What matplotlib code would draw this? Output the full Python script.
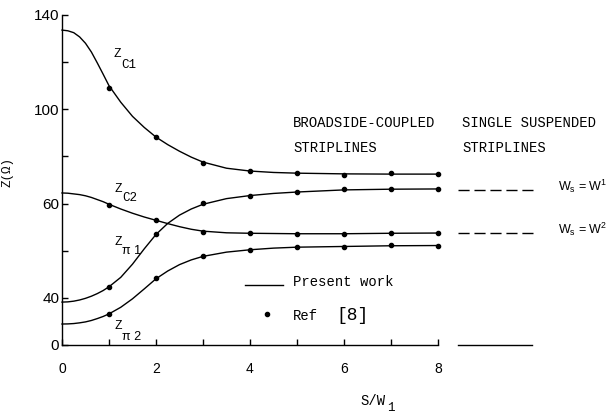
import matplotlib
matplotlib.use("Agg")
import matplotlib.pyplot as plt

# ---- data ----
x_line = [0, 0.125, 0.25, 0.375, 0.5, 0.625, 0.75, 0.875, 1, 1.25, 1.5, 1.75, 2,
          2.25, 2.5, 2.75, 3, 3.5, 4, 4.5, 5, 6, 7, 8]
zc1_line = [133.6, 133.3, 132.5, 130.7, 128.0, 124.3, 119.7, 114.9, 110.0, 103.0, 97.0, 92.3, 88.2,
            85.0, 82.2, 79.7, 77.6, 75.0, 73.8, 73.2, 72.9, 72.6, 72.5, 72.5]
zc2_line = [64.5, 64.4, 64.1, 63.8, 63.3, 62.6, 61.7, 60.8, 59.7, 57.7, 55.9, 54.3, 52.9,
            51.5, 50.2, 49.1, 48.3, 47.6, 47.4, 47.3, 47.2, 47.2, 47.4, 47.5]
zpi1_line = [18.2, 18.3, 18.6, 19.1, 19.8, 20.7, 21.8, 23.1, 24.7, 28.7, 34.3, 40.8, 46.9,
             51.6, 55.1, 57.7, 59.7, 62.1, 63.4, 64.3, 64.9, 65.8, 66.1, 66.2]
zpi2_line = [8.9, 8.95, 9.1, 9.4, 9.8, 10.4, 11.2, 12.1, 13.2, 16.0, 19.6, 23.8, 28.1,
             31.4, 34.1, 36.1, 37.6, 39.4, 40.4, 41.1, 41.5, 41.8, 42.1, 42.2]

x_ref = [1, 2, 3, 4, 5, 6, 7, 8]
zc1_ref = [109.0, 88.2, 77.2, 73.8, 73.0, 72.1, 73.0, 72.5]
zc2_ref = [59.4, 52.9, 47.9, 47.5, 47.1, 47.1, 47.5, 47.5]
zpi1_ref = [24.7, 47.3, 60.2, 63.2, 64.9, 66.2, 66.2, 66.2]
zpi2_ref = [13.2, 28.5, 37.8, 40.3, 41.6, 41.6, 42.4, 42.0]

# single suspended striplines (right of the axis)
x_single = [8.43, 10.05]
z_ws_w1 = [65.8, 65.8]
z_ws_w2 = [47.5, 47.5]
z_zero = [0, 0]

y_ticks = [0, 20, 40, 60, 80, 100, 120, 140]
y_ticklabels = ["0", "40", "", "60", "", "100", "", "140"]
x_ticks = [0, 1, 2, 3, 4, 5, 6, 7, 8]
x_ticklabels = ["0", "", "2", "", "4", "", "6", "", "8"]

plt.rcParams['mathtext.fontset'] = 'custom'
plt.rcParams['mathtext.rm'] = 'Liberation Sans'
plt.rcParams['mathtext.it'] = 'Liberation Sans'

MONO = 'Liberation Mono'
SANS = 'Liberation Sans'
lw = 1.0

fig = plt.figure(figsize=(6.07, 4.16), dpi=100)
ax = fig.add_axes([62/607, 71/416, 376/607, 330/416])

for yv in (zc1_line, zc2_line, zpi1_line, zpi2_line):
    ax.plot(x_line, yv, color='black', lw=lw, clip_on=False,
            solid_joinstyle='round')
for yv in (zc1_ref, zc2_ref, zpi1_ref, zpi2_ref):
    ax.plot(x_ref, yv, 'o', color='black', ms=3, clip_on=False)

ax.plot(x_single, z_ws_w1, color='black', lw=lw, dashes=(8, 3.5), clip_on=False)
ax.plot(x_single, z_ws_w2, color='black', lw=lw, dashes=(8, 3.5), clip_on=False)
ax.plot([8.43, 10.0], z_zero, color='black', lw=lw, clip_on=False)

ax.set_xlim(0, 8)
ax.set_ylim(0, 140)
ax.spines['top'].set_visible(False)
ax.spines['right'].set_visible(False)
ax.spines['left'].set_linewidth(1.0)
ax.spines['bottom'].set_linewidth(1.0)
ax.set_xticks(x_ticks)
ax.set_xticklabels(x_ticklabels, fontfamily=SANS, fontsize=10)
ax.set_yticks(y_ticks)
ax.set_yticklabels(y_ticklabels, fontfamily=SANS, fontsize=11)
ax.tick_params(direction='in', length=4, width=1)
ax.tick_params(axis='x', pad=12)
ax.tick_params(axis='y', pad=2)

# curve labels
def zlabel(xz, yz, sub, xs, ys, fam):
    ax.text(xz, yz, "Z", fontfamily=MONO, fontsize=9, ha='center', va='center', clip_on=False)
    ax.text(xs, ys, sub, fontfamily=fam, fontsize=9, ha='center', va='center', clip_on=False)

zlabel(1.17, 123.5, "C1", 1.42, 119.0, MONO)
zlabel(1.20, 66.3, "C2", 1.45, 62.2, MONO)
zlabel(1.20, 43.8, "\u03c0 1", 1.49, 40.0, SANS)
zlabel(1.20, 8.0, "\u03c0 2", 1.49, 3.6, SANS)

# region titles
fig.text(293/607, 1-123/416, "BROADSIDE-COUPLED", fontfamily=MONO, fontsize=10, ha='left', va='center')
fig.text(293/607, 1-148/416, "STRIPLINES", fontfamily=MONO, fontsize=10, ha='left', va='center')
fig.text(462/607, 1-123/416, "SINGLE SUSPENDED", fontfamily=MONO, fontsize=10, ha='left', va='center')
fig.text(462/607, 1-148/416, "STRIPLINES", fontfamily=MONO, fontsize=10, ha='left', va='center')

# W_s = W labels
fig.text(558/607, 1-191/416, r"W$_\mathrm{s}$ = W$^1$", fontfamily=SANS, fontsize=9, ha='left', va='baseline')
fig.text(558/607, 1-234/416, r"W$_\mathrm{s}$ = W$^2$", fontfamily=SANS, fontsize=9, ha='left', va='baseline')

# legend
leg_line_x = [(245-62)/47, (283-62)/47]
ax.plot(leg_line_x, [(345-285)/2.357]*2, color='black', lw=lw, clip_on=False)
ax.plot([(267-62)/47], [(345-314)/2.357], 'o', color='black', ms=3, clip_on=False)
fig.text(293/607, 1-282/416, "Present work", fontfamily=MONO, fontsize=10, ha='left', va='center')
fig.text(293/607, 1-316/416, "Ref", fontfamily=MONO, fontsize=10, ha='left', va='center')
fig.text(336/607, 1-315/416, "[8]", fontfamily=MONO, fontsize=13, ha='left', va='center')

# axis titles
fig.text(8/607, 1-172/416, "Z(\u03a9)", fontfamily=MONO, fontsize=9, rotation=90, ha='center', va='center')
fig.text(360/607, 1-401/416, "S/W", fontfamily=MONO, fontsize=10, ha='left', va='center')
fig.text(387/607, 1-408/416, "1", fontfamily=MONO, fontsize=9, ha='left', va='center')

fig.savefig("out.png", dpi=100)
